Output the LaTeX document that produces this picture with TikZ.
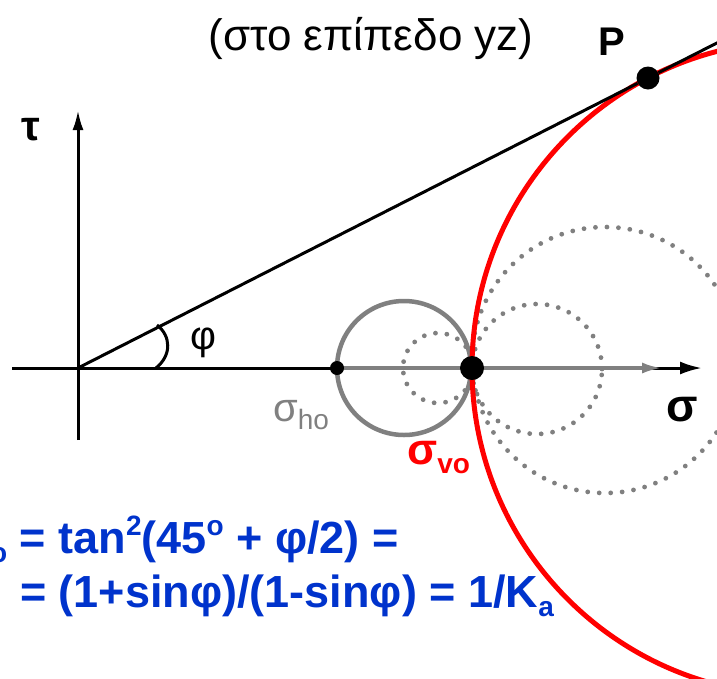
\documentclass[tikz,border=0pt]{standalone}
\usepackage{fontspec}
\setmainfont{Liberation Sans}
\usetikzlibrary{arrows.meta,calc}
\definecolor{fblue}{RGB}{0,51,204}
\definecolor{mgray}{RGB}{128,128,128}
\newcommand\mysub[1]{\raisebox{-0.22em}{\fontsize{28}{30}\selectfont #1}}
\newcommand\mysup[1]{\raisebox{0.38em}{\fontsize{28}{30}\selectfont #1}}
\begin{document}
\begin{tikzpicture}[x=1pt,y=-1pt,
  axis/.style={line width=3pt,black},
  dotc/.style={mgray,line width=4.8pt,line cap=round,dash pattern=on 0pt off 11.5pt},
  blob/.style={circle,fill=black,inner sep=0pt,minimum size=#1},
  formula/.style={text=fblue,font=\fontsize{45}{53}\selectfont\bfseries,inner sep=0pt},
  lab/.style={font=\fontsize{40}{44}\selectfont,inner sep=0pt}]
\useasboundingbox (0,0) rectangle (717,678);
% coordinates
\coordinate (O) at (78,368);
\coordinate (Xl) at (12,368);
\coordinate (Xr) at (702,368);
\coordinate (Yb) at (78,440);
\coordinate (Yt) at (78,110);
\coordinate (Gend) at (662,368);
\coordinate (Tend) at (720,41.4);
\coordinate (Cg) at (404,368);
\coordinate (Cd1) at (438,368);
\coordinate (Cd2) at (537,369);
\coordinate (Cd3) at (605,360);
\coordinate (Cr) at (799,368);
\coordinate (A1) at (156,368);
\coordinate (A2) at (157,325);
% circles
\draw[mgray,line width=4.5pt] (Cg) circle[radius=67pt];
\draw[dotc] (Cd1) circle[radius=35pt];
\draw[dotc] (Cd2) circle[radius=65pt];
\draw[dotc] (Cd3) circle[radius=133pt];
\draw[red,line width=5pt] (Cr) circle[radius=327pt];
% axes
\draw[axis,-{Latex[length=22pt,width=13pt]}] (Xl) -- (Xr);
\draw[axis,-{Latex[length=20pt,width=11pt]}] (Yb) -- (Yt);
% dots
\coordinate (Sh) at (337,368);
\draw[mgray,line width=3.5pt,-{Latex[length=20pt,width=11pt]}] (Sh) -- (Gend);
\node[blob=14pt] (ShDot) at (Sh) {};
\node[blob=24pt] (Sv) at (472,368) {};
\node[blob=23pt] (P) at (648,78) {};
% tangent line
\draw[line width=3pt] (O) -- (P);
\draw[line width=3pt] (P) -- (Tend);
% angle
\draw[line width=3pt] (A1) .. controls (172,355) and (171,336) .. (A2);
% labels
\node[lab] (title) at (371,38) {\fontsize{44}{48}\selectfont (στο επίπεδο yz)};
\node[lab,font=\fontsize{40}{44}\selectfont\bfseries] (Plab) at (612,42) {P};
\node[lab,font=\fontsize{42}{44}\selectfont\bfseries] (tau) at (31,130) {τ};
\node[lab,font=\fontsize{46}{48}\selectfont\bfseries] (sig) at (682,410) {σ};
\node[lab] (phi) at (203,343) {φ};
\node[lab,text=mgray,anchor=base west] (sho) at (273,421) {σ\mysub{ho}};
\node[lab,text=red,font=\fontsize{44}{46}\selectfont\bfseries,anchor=base west] (svo) at (407,464) {σ\mysub{vo}};
% formulas
\node[formula,anchor=base west] (f1) at (-10,553) {\mysub{o} = tan\mysup{2}(45\mysup{o} + φ/2) =};
\node[formula,anchor=base west] (f2) at (20,607) {= (1+sinφ)/(1-sinφ) = 1/K\mysub{a}};
\end{tikzpicture}
\end{document}
